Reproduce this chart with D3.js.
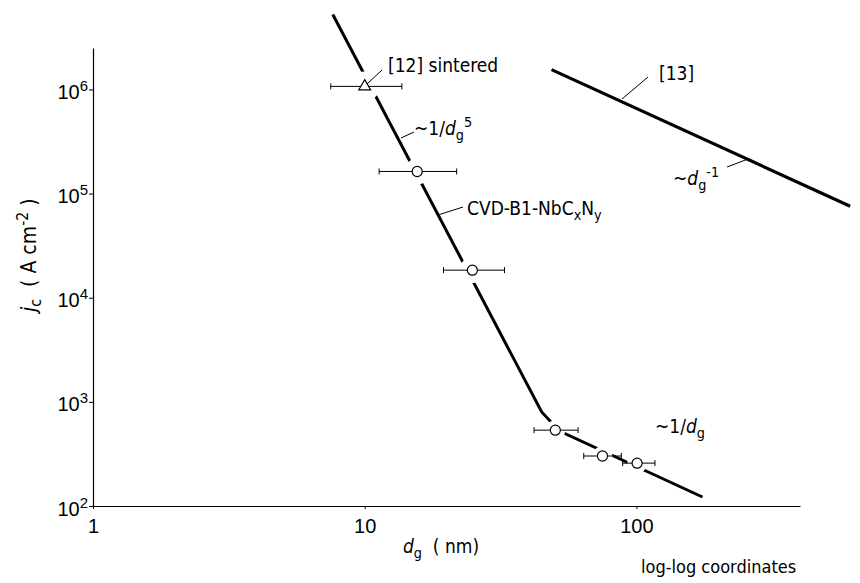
<!DOCTYPE html>
<html>
<head>
<meta charset="utf-8">
<script src="https://cdn.jsdelivr.net/npm/d3@7"></script>
<style>
  body { margin: 0; background: #fff; }
  svg { font-family: "Liberation Sans Narrow", "DejaVu Sans Condensed", sans-serif; }
</style>
</head>
<body>
<svg id="chart" width="860" height="583"></svg>
<script>
'use strict';

// measured points (grain size in nm, critical current density in A/cm2)
var grainSize = [10, 15.6, 24.9, 50.3, 75, 100.6];
var currentDensity = [1.07e6, 1.63e5, 1.84e4, 535, 302, 258];
var grainLow = [7.5, 11.3, 19.5, 42, 64, 89];
var grainHigh = [13.7, 21.8, 32.7, 61, 88, 117];
var markerKind = ['triangle', 'circle', 'circle', 'circle', 'circle', 'circle'];

// CVD-B1-NbCxNy trend line
var trendGrain = [7.63, 44.8, 52.1, 175];
var trendCurrent = [5.25e6, 800, 525, 122];

// line from [13]
var refGrain = [48.7, 612];
var refCurrent = [1.55e6, 7.55e4];

var xTicks = [1, 10, 100];
var xTickLabels = ['1', '10', '100'];
var yTicks = [1e2, 1e3, 1e4, 1e5, 1e6];
var yTickExponents = ['2', '3', '4', '5', '6'];

var NB = '\u00a0';
var svg = d3.select('#chart');

var x = d3.scaleLog().domain([1, 400]).range([93, 800]);
var y = d3.scaleLog().domain([1e2, 2.5e6]).range([506, 48]);

// write text with sub / superscripts
function rich(sel, parts) {
  var off = 0;
  parts.forEach(function (p) {
    var t = sel.append('tspan').text(p.t);
    var target = p.s === 'sub' ? 5 : p.s === 'sup' ? -8 : 0;
    if (target !== off) t.attr('dy', target - off);
    off = target;
    if (p.s) t.style('font-size', '75%');
    if (p.i) t.style('font-style', 'italic');
  });
  return sel;
}

// axes
var xAxis = d3.axisBottom(x).tickValues(xTicks).tickSize(3).tickSizeOuter(0)
    .tickFormat(function (d, i) { return xTickLabels[i]; });
var gx = svg.append('g')
    .attr('transform', 'translate(0,' + y.range()[0] + ')')
    .call(xAxis);
gx.selectAll('text').attr('font-size', 20).attr('dy', '1.05em').attr('font-family', null);

var yAxis = d3.axisLeft(y).tickValues(yTicks).tickSize(4).tickSizeOuter(0).tickFormat('');
var gy = svg.append('g')
    .attr('transform', 'translate(' + x.range()[0] + ',0)')
    .call(yAxis);
gy.selectAll('.tick').each(function (d, i) {
  var t = d3.select(this).append('text')
      .attr('x', -5).attr('y', 9)
      .attr('text-anchor', 'end')
      .attr('font-size', 20)
      .attr('fill', '#000');
  rich(t, [{t: '10'}, {t: yTickExponents[i], s: 'sup'}]);
});
svg.selectAll('.domain').attr('stroke', '#000').attr('stroke-width', 1.2);

// axis titles
rich(svg.append('text').attr('x', 403).attr('y', 553).attr('font-size', 19),
  [{t: 'd', i: true}, {t: 'g', s: 'sub'}, {t: NB + NB + '(' + NB + 'nm)'}]);
rich(svg.append('text').attr('transform', 'translate(36,312) rotate(-90)').attr('font-size', 21),
  [{t: 'j', i: true}, {t: 'c', s: 'sub'}, {t: NB + NB + '(' + NB + 'A' + NB + 'cm'}, {t: '-2', s: 'sup'}, {t: NB + ')'}]);
svg.append('text').attr('x', 641).attr('y', 573).attr('font-size', 18).text('log-log coordinates');

// gaps in the trend line around the markers
var mask = svg.append('defs').append('mask').attr('id', 'gaps');
mask.append('rect').attr('width', 860).attr('height', 583).attr('fill', '#fff');
mask.selectAll('circle')
    .data(grainSize)
    .enter().append('circle')
    .attr('cx', function (d) { return x(d); })
    .attr('cy', function (d, i) { return y(currentDensity[i]); })
    .attr('r', function (d, i) { return i === 0 ? 15 : i < 3 ? 13 : 10; })
    .attr('fill', '#000');

var line = d3.line()
    .x(function (d) { return x(d[0]); })
    .y(function (d) { return y(d[1]); });

svg.append('path')
    .attr('d', line(d3.zip(trendGrain, trendCurrent)))
    .attr('mask', 'url(#gaps)')
    .attr('fill', 'none').attr('stroke', '#000').attr('stroke-width', 3);

svg.append('path')
    .attr('d', line(d3.zip(refGrain, refCurrent)))
    .attr('fill', 'none').attr('stroke', '#000').attr('stroke-width', 3.2);

// error bars
var bars = svg.append('g').attr('stroke', '#000').attr('stroke-width', 1);
grainSize.forEach(function (g, i) {
  var cy = y(currentDensity[i]);
  bars.append('line').attr('x1', x(grainLow[i])).attr('x2', x(grainHigh[i])).attr('y1', cy).attr('y2', cy);
  bars.append('line').attr('x1', x(grainLow[i])).attr('x2', x(grainLow[i])).attr('y1', cy - 3).attr('y2', cy + 3);
  bars.append('line').attr('x1', x(grainHigh[i])).attr('x2', x(grainHigh[i])).attr('y1', cy - 3).attr('y2', cy + 3);
});

// markers
var symbol = d3.symbol();
svg.append('g').selectAll('path')
    .data(grainSize)
    .enter().append('path')
    .attr('transform', function (d, i) { return 'translate(' + x(d) + ',' + y(currentDensity[i]) + ')'; })
    .attr('d', function (d, i) {
      return markerKind[i] === 'triangle'
        ? symbol.type(d3.symbolTriangle).size(60)()
        : symbol.type(d3.symbolCircle).size(80)();
    })
    .attr('fill', '#fff').attr('stroke', '#000').attr('stroke-width', 1.2);

// annotations with leader lines
var leaders = [
  [382, 70, 367, 84],
  [401, 138, 414, 132],
  [438, 215, 463, 207],
  [622, 99, 648, 77],
  [727, 167, 748, 159]
];
svg.append('g').selectAll('line')
    .data(leaders)
    .enter().append('line')
    .attr('x1', function (d) { return d[0]; }).attr('y1', function (d) { return d[1]; })
    .attr('x2', function (d) { return d[2]; }).attr('y2', function (d) { return d[3]; })
    .attr('stroke', '#000').attr('stroke-width', 1);

svg.append('text').attr('x', 388).attr('y', 72).attr('font-size', 19).text('[12]' + NB + 'sintered');
rich(svg.append('text').attr('x', 414).attr('y', 135).attr('font-size', 19),
  [{t: '~1/'}, {t: 'd', i: true}, {t: 'g', s: 'sub'}, {t: '5', s: 'sup'}]);
rich(svg.append('text').attr('x', 467).attr('y', 215).attr('font-size', 19),
  [{t: 'CVD-B1-NbC'}, {t: 'x', s: 'sub'}, {t: 'N'}, {t: 'y', s: 'sub'}]);
svg.append('text').attr('x', 659).attr('y', 80).attr('font-size', 19).text('[13]');
rich(svg.append('text').attr('x', 673).attr('y', 185).attr('font-size', 19),
  [{t: '~'}, {t: 'd', i: true}, {t: 'g', s: 'sub'}, {t: '-1', s: 'sup'}]);
rich(svg.append('text').attr('x', 655).attr('y', 433).attr('font-size', 19),
  [{t: '~1/'}, {t: 'd', i: true}, {t: 'g', s: 'sub'}]);
</script>
</body>
</html>
